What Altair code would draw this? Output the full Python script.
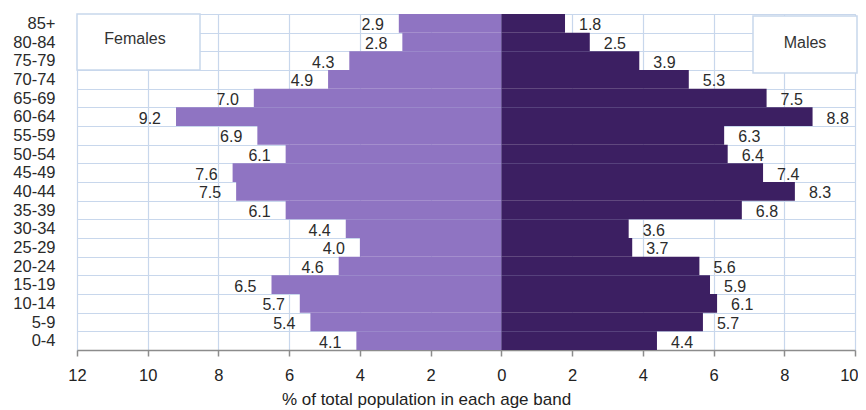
import altair as alt
import pandas as pd

ages = ["85+", "80-84", "75-79", "70-74", "65-69", "60-64", "55-59", "50-54",
        "45-49", "40-44", "35-39", "30-34", "25-29", "20-24", "15-19", "10-14",
        "5-9", "0-4"]
females = [2.9, 2.8, 4.3, 4.9, 7.0, 9.2, 6.9, 6.1, 7.6, 7.5, 6.1, 4.4, 4.0, 4.6,
           6.5, 5.7, 5.4, 4.1]
males = [1.8, 2.5, 3.9, 5.3, 7.5, 8.8, 6.3, 6.4, 7.4, 8.3, 6.8, 3.6, 3.7, 5.6,
         5.9, 6.1, 5.7, 4.4]
tick_values = [-12, -10, -8, -6, -4, -2, 0, 2, 4, 6, 8, 10]

rows = []
for a, f, m in zip(ages, females, males):
    rows.append({"age": a, "sex": "Females", "value": f, "signed": -f, "label": f"{f:.1f}"})
    rows.append({"age": a, "sex": "Males", "value": m, "signed": m, "label": f"{m:.1f}"})
df = pd.DataFrame(rows)

FONT = "Liberation Sans"
GRID = "#C8D7EC"
W, H = 778, 336

x_scale = alt.Scale(domain=[-12, 10], nice=False, zero=False)
y_enc = alt.Y(
    "age:N", sort=ages, title=None,
    scale=alt.Scale(paddingInner=0, paddingOuter=0),
    axis=alt.Axis(grid=True, tickBand="extent", gridColor=GRID, gridWidth=1.2,
                  ticks=False, domain=False, labelPadding=22, labelFontSize=16.5,
                  labelFont=FONT, labelColor="#2a2a2a"),
)

base = alt.Chart(df)

bars = base.mark_bar(stroke=None).encode(
    y=y_enc,
    x=alt.X("signed:Q", scale=x_scale,
            title="% of total population in each age band",
            axis=alt.Axis(values=tick_values, labelExpr="abs(datum.value)",
                          grid=True, gridColor=GRID, gridWidth=1.2,
                          domainColor="#8C8C8C", domainWidth=1.5,
                          tickColor="#8C8C8C", tickSize=6, tickWidth=1.5,
                          labelFlush=False, labelOverlap=False,
                          labelAlign={"condition": {"test": "datum.value == 10", "value": "right"},
                                      "value": "center"},
                          labelOffset={"condition": {"test": "datum.value == 10", "value": 3},
                                       "value": 0},
                          labelPadding=11, labelFontSize=16.5, labelFont=FONT,
                          labelColor="#222222", titleFont=FONT, titleFontSize=17,
                          titleFontWeight="normal", titleColor="#222222",
                          titlePadding=8, titleX=349)),
    color=alt.Color("sex:N", scale=alt.Scale(domain=["Females", "Males"],
                                             range=["#8F74C2", "#3C1F62"]),
                    legend=None),
)

f_text = base.transform_filter(alt.datum.sex == "Females").mark_text(
    align="right", baseline="middle", dx=-15, dy=2, fontSize=16, font=FONT,
    color="#2b2b2b"
).encode(y=alt.Y("age:N", sort=ages), x=alt.X("signed:Q", scale=x_scale), text="label:N")

m_text = base.transform_filter(alt.datum.sex == "Males").mark_text(
    align="left", baseline="middle", dx=14, dy=2, fontSize=16, font=FONT,
    color="#2b2b2b"
).encode(y=alt.Y("age:N", sort=ages), x=alt.X("signed:Q", scale=x_scale), text="label:N")

legend_df = pd.DataFrame({"name": ["Females", "Males"]})
leg = alt.Chart(legend_df)

f_box = leg.transform_filter(alt.datum.name == "Females").mark_rect(
    fill="white", stroke=GRID, strokeWidth=1.5
).encode(x=alt.value(0), x2=alt.value(123), y=alt.value(0), y2=alt.value(56))
f_lab = leg.transform_filter(alt.datum.name == "Females").mark_text(
    fontSize=16, font=FONT, color="#333333"
).encode(x=alt.value(58), y=alt.value(25), text="name:N")

m_box = leg.transform_filter(alt.datum.name == "Males").mark_rect(
    fill="white", stroke=GRID, strokeWidth=1.5
).encode(x=alt.value(676), x2=alt.value(780), y=alt.value(2), y2=alt.value(59))
m_lab = leg.transform_filter(alt.datum.name == "Males").mark_text(
    fontSize=16, font=FONT, color="#333333"
).encode(x=alt.value(728), y=alt.value(29), text="name:N")

chart = alt.layer(bars, f_text, m_text, f_box, f_lab, m_box, m_lab).properties(
    width=W, height=H,
    autosize=alt.AutoSizeParams(type="none"),
    padding={"left": 69, "top": 6, "right": 3, "bottom": 60},
).configure_view(stroke=None).configure(background="white")

chart.save("out.html", embed_options={"renderer": "svg", "actions": False})
